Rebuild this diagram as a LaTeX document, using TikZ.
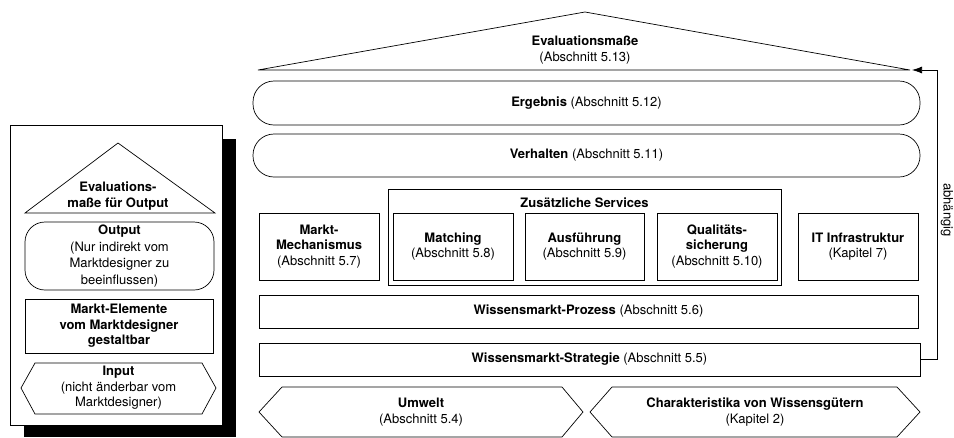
\documentclass[tikz,border=0pt]{standalone}
\usepackage{fontspec}
\setmainfont{TeX Gyre Heros}
\usetikzlibrary{arrows.meta}
\begin{document}
\begin{tikzpicture}[x=1pt,y=-1pt, line width=0.7pt,
  every node/.append style={font=\fontsize{13}{15.5}\selectfont},
  box/.style={draw, align=center, inner sep=0pt, fill=white},
  stadium/.style={box, rounded corners=21pt},
  lbl/.style={align=center, inner sep=0pt},
  bld/.style={font=\fontsize{13}{15.5}\selectfont\bfseries}]
\useasboundingbox (0,0) rectangle (954,437);
\fill[white] (0,0) rectangle (954,437);

% ---------- legend ----------
\fill[black] (24,139) rectangle (236,437);
\node[box, minimum width=212pt, minimum height=300pt] (legend) at (116,275) {};
\coordinate (lt1) at (25,213); \coordinate (lt2) at (118,143); \coordinate (lt3) at (215,213);
\draw (lt1) -- (lt2) -- (lt3) -- cycle;
\node[lbl, bld] (levtxt) at (118,196) {Evaluations-\\maße für Output};
\node[box, rounded corners=20pt, minimum width=189pt, minimum height=68pt,
  font=\fontsize{13}{16.5}\selectfont] (loutput) at (119.5,256)
  {\textbf{Output}\\(Nur indirekt vom\\Marktdesigner zu\\beeinflussen)};
\node[box, bld, minimum width=188pt, minimum height=54pt] (lelem) at (119,326)
  {Markt-Elemente\\vom Marktdesigner\\gestaltbar};
\coordinate (li1) at (21,388); \coordinate (li2) at (35,363); \coordinate (li3) at (202,363);
\coordinate (li4) at (216,388); \coordinate (li5) at (202,414); \coordinate (li6) at (35,414);
\draw (li1) -- (li2) -- (li3) -- (li4) -- (li5) -- (li6) -- cycle;
\node[lbl] (linput) at (118.5,388) {\textbf{Input}\\(nicht änderbar vom\\Marktdesigner)};

% ---------- main ----------
\coordinate (r1) at (258,70); \coordinate (r2) at (585,12); \coordinate (r3) at (910,70);
\draw (r1) -- (r2) -- (r3) -- cycle;
\node[lbl] (roof) at (585,50) {\textbf{Evaluationsmaße}\\(Abschnitt 5.13)};

\node[stadium, minimum width=667pt, minimum height=44pt] (erg) at (586.5,103) {\textbf{Ergebnis} (Abschnitt 5.12)};
\node[stadium, minimum width=667pt, minimum height=43pt] (verh) at (586.5,155.5) {\textbf{Verhalten} (Abschnitt 5.11)};

\node[box, minimum width=393pt, minimum height=96pt] (serv) at (584.5,237) {};
\node[lbl, bld] (servt) at (584.5,203) {Zusätzliche Services};

\node[box, minimum width=120pt, minimum height=67pt] (mm) at (319,246.5) {\textbf{Markt-}\\\textbf{Mechanismus}\\(Abschnitt 5.7)};
\node[box, minimum width=120pt, minimum height=67pt] (match) at (453,246.5) {\textbf{Matching}\\(Abschnitt 5.8)};
\node[box, minimum width=119pt, minimum height=67pt] (ausf) at (584.5,246.5) {\textbf{Ausführung}\\(Abschnitt 5.9)};
\node[box, minimum width=120pt, minimum height=67pt] (qual) at (717,246.5) {\textbf{Qualitäts-}\\\textbf{sicherung}\\(Abschnitt 5.10)};
\node[box, minimum width=120pt, minimum height=67pt] (it) at (858,246.5) {\textbf{IT Infrastruktur}\\(Kapitel 7)};

\node[box, minimum width=659pt, minimum height=33pt] (proz) at (588.5,311.5) {\textbf{Wissensmarkt-Prozess} (Abschnitt 5.6)};
\node[box, minimum width=661pt, minimum height=33pt] (strat) at (589.5,359.5) {\textbf{Wissensmarkt-Strategie} (Abschnitt 5.5)};

\coordinate (u1) at (259,412); \coordinate (u2) at (282,387); \coordinate (u3) at (562,387);
\coordinate (u4) at (583,412); \coordinate (u5) at (562,437); \coordinate (u6) at (282,437);
\draw (u1) -- (u2) -- (u3) -- (u4) -- (u5) -- (u6) -- cycle;
\node[lbl] (umw) at (421,412) {\textbf{Umwelt}\\(Abschnitt 5.4)};

\coordinate (c1) at (590,412); \coordinate (c2) at (612,387); \coordinate (c3) at (897,387);
\coordinate (c4) at (920,412); \coordinate (c5) at (897,437); \coordinate (c6) at (612,437);
\draw (c1) -- (c2) -- (c3) -- (c4) -- (c5) -- (c6) -- cycle;
\node[lbl] (char) at (755,412) {\textbf{Charakteristika von Wissensgütern}\\(Kapitel 2)};

% dependency arrow
\coordinate (aend) at (912,70);
\draw[-{Latex[length=10pt,width=7pt]}] (strat.east) -- (937,359.5) |- (aend);
\node[lbl, rotate=-90] (abh) at (947,210) {abhängig};
\end{tikzpicture}
\end{document}
